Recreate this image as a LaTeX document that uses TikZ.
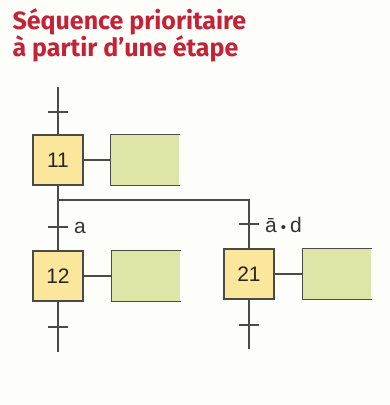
\documentclass[tikz,border=0pt]{standalone}
\usepackage{fontspec}
\setmainfont{Liberation Sans}
\newfontfamily\titlefont{Fira Sans}
\usetikzlibrary{positioning}
\definecolor{gred}{HTML}{C42236}
\definecolor{gline}{HTML}{4A4A4A}
\definecolor{gstep}{HTML}{FBE79C}
\definecolor{gact}{HTML}{DDE6A6}
\definecolor{gback}{HTML}{FDFDF9}

\begin{document}
\begin{tikzpicture}[x=1pt, y=-1pt, font=\fontsize{21}{24}\selectfont,
  line width=1.2pt, gline,
  stepbox/.style={draw=gline, fill=gstep, minimum width=50pt, minimum height=50pt, inner sep=0pt, text=black!85},
  actbox/.style={fill=gact, minimum width=68pt, minimum height=50pt, inner sep=0pt},
  trans/.style={fill=gline, minimum width=20pt, minimum height=1.4pt, inner sep=0pt},
  cond/.style={text=black!80, inner sep=0pt, xshift=5pt, yshift=-1pt}]
\fill[gback] (0,0) rectangle (390,405);
\useasboundingbox (0,0) rectangle (390,405);
% title
\node[anchor=north west, align=left, gred, inner sep=0pt,
  font=\titlefont\bfseries\fontsize{25}{26}\selectfont] (title) at (12,8)
  {Séquence prioritaire\\à partir d’une étape};
% steps and actions
\node[stepbox] (s11) at (58,160) {11};
\node[stepbox] (s12) at (58,276) {12};
\node[stepbox] (s21) at (249,274) {21};
\node[actbox] (a11) at (145,160) {};
\node[actbox] (a12) at (146,276) {};
\node[actbox] (a21) at (337,274) {};
% transitions
\coordinate (in) at (58,87);
\node[trans] (t0) at (58,112) {};
\coordinate (br) at (58,200);
\node[trans, label={[cond, anchor=west]right:a}] (ta) at (58,227) {};
\node[trans, label={[cond, anchor=west]right:ā\kern4pt{\fontsize{15}{15}\selectfont•}\kern4pt d}] (tad) at (249,224) {};
\node[trans] (t12) at (58,327) {};
\node[trans] (t21) at (249,325) {};
\coordinate (out12) at (58,352);
\coordinate (out21) at (249,349);
% links
\draw (in) -- (t0) -- (s11);
\draw (s11) -- (ta) -- (s12) -- (t12) -- (out12);
\draw (br) -| (tad) -- (s21) -- (t21) -- (out21);
\foreach \s in {11,12,21}{
  \draw (s\s) -- (a\s);
  \draw (a\s.north east) -- (a\s.north west) -- (a\s.south west) -- (a\s.south east);
}
\end{tikzpicture}
\end{document}
